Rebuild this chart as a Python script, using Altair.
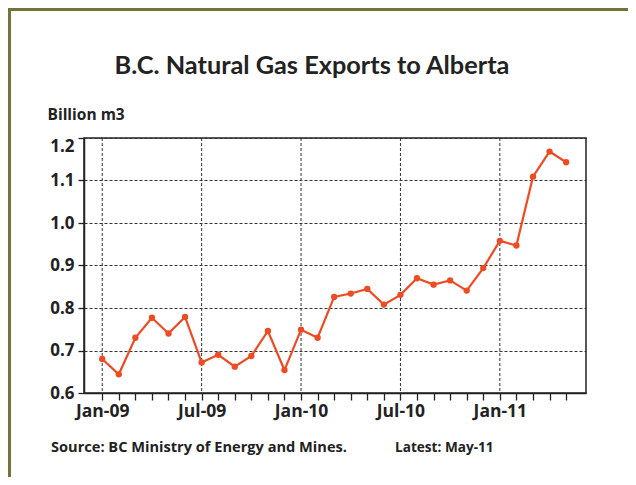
import altair as alt
import pandas as pd

# ---- data ----
months = ["Jan-09", "Feb-09", "Mar-09", "Apr-09", "May-09", "Jun-09",
          "Jul-09", "Aug-09", "Sep-09", "Oct-09", "Nov-09", "Dec-09",
          "Jan-10", "Feb-10", "Mar-10", "Apr-10", "May-10", "Jun-10",
          "Jul-10", "Aug-10", "Sep-10", "Oct-10", "Nov-10", "Dec-10",
          "Jan-11", "Feb-11", "Mar-11", "Apr-11", "May-11"]
exports = [0.680, 0.644, 0.730, 0.777, 0.740, 0.779,
           0.672, 0.690, 0.662, 0.687, 0.746, 0.654,
           0.749, 0.730, 0.826, 0.834, 0.845, 0.808,
           0.831, 0.870, 0.855, 0.865, 0.841, 0.894,
           0.958, 0.947, 1.109, 1.168, 1.143]
y_ticks = [0.6, 0.7, 0.8, 0.9, 1.0, 1.1, 1.2]
label_every = 6

title_text = "B.C. Natural Gas Exports to Alberta"
y_title = "Billion m3"
source_text = "Source: BC Ministry of Energy and Mines."
latest_text = "Latest: May-11"

df = pd.DataFrame({"idx": list(range(len(months))), "month": months, "value": exports})
grid_df = pd.DataFrame({"idx": [i for i in range(len(months)) if i % label_every == 0]})

FONT = "Open Sans"
TFONT = "Lato"
LINE = "#ee4b22"
FRAME = "#74743a"
INK = "#222"

label_arr = "[" + ",".join("'" + (m if i % label_every == 0 else "") + "'" for i, m in enumerate(months)) + "]"

xscale = alt.Scale(domain=[-1.1, 29.2], nice=False, zero=False)
yscale = alt.Scale(domain=[0.6, 1.2], nice=False, zero=False)

x_axis = alt.Axis(values=list(range(len(months))), labelExpr=label_arr + "[datum.value]",
                  grid=False, tickSize=7, tickColor=INK, tickWidth=1.3,
                  domainColor=INK, domainWidth=1.5, labelFont=FONT, labelFontSize=17.5,
                  labelFontWeight="bold", labelColor=INK, labelPadding=2, title=None,
                  labelFlush=False, labelOverlap=False)
y_axis = alt.Axis(values=y_ticks, format=".1f", grid=True, gridDash=[3, 2], gridColor="#333",
                  gridWidth=1, tickSize=6, tickColor=INK, tickWidth=1.3,
                  domainColor=INK, domainWidth=1.5, labelFont=FONT, labelFontSize=17,
                  labelFontWeight="bold", labelColor=INK, labelPadding=4,
                  labelOverlap=False,
                  labelBaseline={"condition": {"test": "datum.value >= 1.19", "value": "top"}, "value": "middle"},
                  title=y_title, titleAngle=0, titleAlign="left", titleBaseline="alphabetic",
                  titleX=-37, titleY=-19, titleFont=FONT, titleFontSize=15.5,
                  titleFontWeight="bold", titleColor=INK)

X = alt.X("idx:Q", scale=xscale, axis=x_axis)
Y = alt.Y("value:Q", scale=yscale, axis=y_axis)

vgrid = alt.Chart(grid_df).mark_rule(strokeDash=[3, 2], color="#333", strokeWidth=1).encode(x=X)

line = alt.Chart(df).mark_line(color=LINE, strokeWidth=2.2).encode(x=X, y=Y)
pts = alt.Chart(df).mark_circle(color=LINE, size=40, opacity=1).encode(x=X, y=Y)

title = alt.Chart(pd.DataFrame({"t": [title_text]})).mark_text(
    align="center", baseline="alphabetic", font=TFONT, fontSize=25.3, fontWeight="bold", color=INK).encode(
    x=alt.value(228), y=alt.value(-64.5), text="t:N")
src = alt.Chart(pd.DataFrame({"t": [source_text]})).mark_text(
    align="left", baseline="middle", font=FONT, fontSize=14.6, fontWeight="bold", color=INK).encode(
    x=alt.value(-33), y=alt.value(310), text="t:N")
lat = alt.Chart(pd.DataFrame({"t": [latest_text]})).mark_text(
    align="left", baseline="middle", font=FONT, fontSize=13.6, fontWeight="bold", color=INK).encode(
    x=alt.value(311), y=alt.value(310), text="t:N")

one = pd.DataFrame({"a": [0]})
frame_top = alt.Chart(one).mark_rule(color=FRAME, strokeWidth=3).encode(
    x=alt.value(-76), x2=alt.value(560), y=alt.value(-128.5))
frame_left = alt.Chart(one).mark_rule(color=FRAME, strokeWidth=3).encode(
    x=alt.value(-74.5), y=alt.value(-130), y2=alt.value(340))

chart = alt.layer(vgrid, line, pts, title, src, lat, frame_top, frame_left).properties(
    width=502, height=255,
    autosize=alt.AutoSizeParams(type="none"),
    padding={"left": 76, "top": 130, "right": 42, "bottom": 84},
).configure_view(stroke=INK, strokeWidth=1.5)

chart.save("out.html", embed_options={"renderer": "svg", "actions": False})
